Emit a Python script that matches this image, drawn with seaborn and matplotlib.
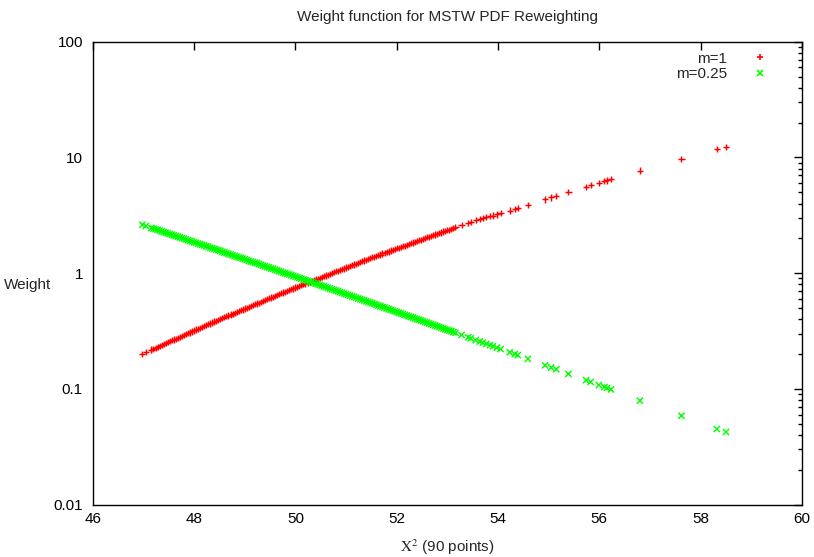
import matplotlib
matplotlib.use("Agg")
import matplotlib.pyplot as plt
import numpy as np
import pandas as pd
import seaborn as sns
from matplotlib.lines import Line2D
from matplotlib.ticker import FixedLocator, LogLocator, NullFormatter

# ---------------- data ----------------
chi2 = [46.98, 47.05,
        47.16, 47.24, 47.32, 47.40, 47.48, 47.56, 47.64, 47.72, 47.80, 47.88, 47.96,
        48.04, 48.12, 48.20, 48.28, 48.36, 48.44, 48.52, 48.60, 48.68, 48.76, 48.84, 48.92,
        49.00, 49.08, 49.16, 49.24, 49.32, 49.40, 49.48, 49.56, 49.64, 49.72, 49.80, 49.88, 49.96,
        50.04, 50.12, 50.20, 50.28, 50.36, 50.44, 50.52, 50.60, 50.68, 50.76, 50.84, 50.92,
        51.00, 51.08, 51.16, 51.24, 51.32, 51.40, 51.48, 51.56, 51.64, 51.72, 51.80, 51.88, 51.96,
        52.04, 52.12, 52.20, 52.28, 52.36, 52.44, 52.52, 52.60, 52.68, 52.76, 52.84, 52.92,
        53.00, 53.08, 53.16,
        53.28, 53.41, 53.46, 53.56, 53.64, 53.70, 53.77, 53.84, 53.90, 53.98, 54.05, 54.23,
        54.33, 54.39, 54.59, 54.93, 55.05, 55.15, 55.39, 55.74, 55.83, 55.99, 56.10, 56.15,
        56.23, 56.80, 57.62, 58.32, 58.50]

weight_m1 = [0.201, 0.208,
             0.219, 0.227, 0.235, 0.244, 0.253, 0.263, 0.272, 0.282, 0.293, 0.303, 0.314,
             0.326, 0.338, 0.350, 0.362, 0.375, 0.389, 0.403, 0.417, 0.431, 0.447, 0.462, 0.478,
             0.495, 0.512, 0.530, 0.548, 0.567, 0.586, 0.606, 0.627, 0.648, 0.670, 0.692, 0.715, 0.739,
             0.764, 0.789, 0.815, 0.842, 0.869, 0.898, 0.927, 0.957, 0.988, 1.02, 1.05, 1.09,
             1.12, 1.16, 1.19, 1.23, 1.27, 1.31, 1.35, 1.39, 1.43, 1.48, 1.52, 1.57, 1.61,
             1.66, 1.71, 1.76, 1.82, 1.87, 1.93, 1.98, 2.04, 2.10, 2.16, 2.22, 2.29,
             2.35, 2.42, 2.49,
             2.60, 2.72, 2.76, 2.86, 2.94, 3.00, 3.07, 3.12, 3.15, 3.22, 3.29, 3.48,
             3.59, 3.66, 3.90, 4.34, 4.51, 4.65, 5.02, 5.58, 5.74, 6.03, 6.24, 6.33,
             6.49, 7.7, 9.7, 11.8, 12.4]

weight_m025 = [2.62, 2.56,
               2.46, 2.40, 2.34, 2.27, 2.21, 2.15, 2.10, 2.04, 1.99, 1.93, 1.88,
               1.83, 1.78, 1.74, 1.69, 1.64, 1.60, 1.56, 1.51, 1.47, 1.43, 1.39, 1.36,
               1.32, 1.28, 1.25, 1.22, 1.18, 1.15, 1.12, 1.09, 1.06, 1.03, 1.00, 0.975, 0.948,
               0.922, 0.897, 0.872, 0.848, 0.825, 0.802, 0.780, 0.759, 0.738, 0.717, 0.698, 0.678,
               0.659, 0.641, 0.623, 0.606, 0.589, 0.573, 0.557, 0.541, 0.526, 0.511, 0.497, 0.483, 0.470,
               0.456, 0.444, 0.431, 0.419, 0.407, 0.396, 0.385, 0.374, 0.363, 0.353, 0.343, 0.333,
               0.324, 0.315, 0.306,
               0.293, 0.279, 0.274, 0.264, 0.257, 0.251, 0.245, 0.239, 0.234, 0.227, 0.221, 0.207,
               0.200, 0.196, 0.182, 0.160, 0.153, 0.148, 0.135, 0.119, 0.115, 0.108, 0.104, 0.102,
               0.0990, 0.0792, 0.0587, 0.0451, 0.0425]

# further points read along the dense part of the band
chi2_band = [47.20, 47.28, 47.36, 47.44, 47.52, 47.60, 47.68, 47.76, 47.84, 47.92,
             48.00, 48.08, 48.16, 48.24, 48.32, 48.40, 48.48, 48.56, 48.64, 48.72, 48.80, 48.88, 48.96,
             49.04, 49.12, 49.20, 49.28, 49.36, 49.44, 49.52, 49.60, 49.68, 49.76, 49.84, 49.92,
             50.00, 50.08, 50.16, 50.24, 50.32, 50.40, 50.48, 50.56, 50.64, 50.72, 50.80, 50.88, 50.96,
             51.04, 51.12, 51.20, 51.28, 51.36, 51.44, 51.52, 51.60, 51.68, 51.76, 51.84, 51.92,
             52.00, 52.08, 52.16, 52.24, 52.32, 52.40, 52.48, 52.56, 52.64, 52.72, 52.80, 52.88, 52.96,
             53.04, 53.12]

weight_m1_band = [0.223, 0.231, 0.240, 0.248, 0.258, 0.267, 0.277, 0.287, 0.298, 0.308,
                  0.320, 0.332, 0.344, 0.356, 0.368, 0.382, 0.396, 0.410, 0.424, 0.439, 0.454, 0.470, 0.486,
                  0.503, 0.521, 0.539, 0.557, 0.576, 0.596, 0.616, 0.637, 0.659, 0.681, 0.703, 0.727,
                  0.751, 0.776, 0.802, 0.828, 0.855, 0.883, 0.912, 0.942, 0.972, 1.00, 1.04, 1.07, 1.10,
                  1.14, 1.17, 1.21, 1.25, 1.29, 1.33, 1.37, 1.41, 1.45, 1.50, 1.54, 1.59,
                  1.64, 1.68, 1.73, 1.79, 1.84, 1.90, 1.95, 2.01, 2.07, 2.13, 2.19, 2.25, 2.32,
                  2.38, 2.45]

weight_m025_band = [2.43, 2.37, 2.30, 2.24, 2.18, 2.12, 2.07, 2.01, 1.96, 1.90,
                    1.85, 1.80, 1.76, 1.71, 1.66, 1.62, 1.58, 1.53, 1.49, 1.45, 1.41, 1.37, 1.34,
                    1.30, 1.26, 1.23, 1.20, 1.16, 1.13, 1.10, 1.07, 1.04, 1.01, 0.988, 0.961,
                    0.935, 0.909, 0.884, 0.860, 0.836, 0.813, 0.791, 0.769, 0.748, 0.727, 0.707, 0.688, 0.668,
                    0.650, 0.632, 0.614, 0.597, 0.581, 0.565, 0.549, 0.533, 0.518, 0.504, 0.490, 0.476,
                    0.463, 0.450, 0.437, 0.425, 0.413, 0.401, 0.390, 0.379, 0.368, 0.358, 0.348, 0.338, 0.328,
                    0.319, 0.310]

series_names = ["m=1", "m=0.25"]
x_ticks = [46, 48, 50, 52, 54, 56, 58, 60]
y_ticks = [0.01, 0.1, 1, 10, 100]
y_tick_labels = ["0.01", "0.1", "1", "10", "100"]

title = "Weight function for MSTW PDF Reweighting"
xlabel = r"$\mathrm{X}^{2}$ (90 points)"
ylabel = "Weight"

# ---------------- styling ----------------
sns.set_theme(style="white")
plt.rcParams["font.family"] = ["Liberation Sans", "DejaVu Sans"]
plt.rcParams["mathtext.fontset"] = "stix"

colors = {"m=1": "#ff0000", "m=0.25": "#00ff00"}
markers = {"m=1": "+", "m=0.25": "x"}

all_x = chi2 + chi2_band
df = pd.concat([
    pd.DataFrame({"chi2": all_x, "weight": weight_m1 + weight_m1_band, "series": series_names[0]}),
    pd.DataFrame({"chi2": all_x, "weight": weight_m025 + weight_m025_band, "series": series_names[1]}),
], ignore_index=True)

fig = plt.figure(figsize=(8.14, 5.57), dpi=100)
ax = fig.add_axes([92.7 / 814, 1 - 504.7 / 557, (802 - 92.7) / 814, (504.7 - 41.7) / 557])

sns.scatterplot(data=df, x="chi2", y="weight", hue="series", style="series",
                palette=colors, markers=markers, s=20, linewidth=1.05,
                ax=ax, legend=False)

ax.set_yscale("log")
ax.set_xlim(46, 60)
ax.set_ylim(0.01, 100)

ax.xaxis.set_major_locator(FixedLocator(x_ticks))
ax.set_xticklabels([str(t) for t in x_ticks])
ax.yaxis.set_major_locator(FixedLocator(y_ticks))
ax.set_yticklabels(y_tick_labels)
ax.yaxis.set_minor_locator(LogLocator(base=10, subs=range(2, 10)))
ax.yaxis.set_minor_formatter(NullFormatter())

ax.tick_params(which="both", direction="in", top=True, right=True, colors="black",
               labelsize=11, width=1)
ax.tick_params(which="major", length=6)
ax.tick_params(axis="x", which="major", pad=5)
ax.tick_params(axis="y", which="major", pad=7)
ax.tick_params(which="minor", length=3)
for sp in ax.spines.values():
    sp.set_color("black")
    sp.set_linewidth(1)

ax.set_xlabel(xlabel, fontsize=11)
ax.xaxis.set_label_coords(0.5, -0.0914)
ax.xaxis.label.set_va("center")
ax.set_ylabel(ylabel, fontsize=11, rotation=0, ha="center", va="center")
ax.yaxis.set_label_coords(-0.0912, 0.4745)

ax.text(0.5, 1.0533, title, transform=ax.transAxes, ha="center", va="center", fontsize=11)

handles = [Line2D([], [], linestyle="none", marker=markers[n], color=colors[n],
                  markersize=4, markeredgewidth=1.2) for n in series_names]
ax.legend(handles, series_names, loc="upper right", bbox_to_anchor=(0.971, 0.992),
          borderaxespad=0, frameon=False, markerfirst=False, fontsize=11,
          handlelength=2.0, handletextpad=1.16, labelspacing=0.1)

fig.savefig("out.png", dpi=100)
